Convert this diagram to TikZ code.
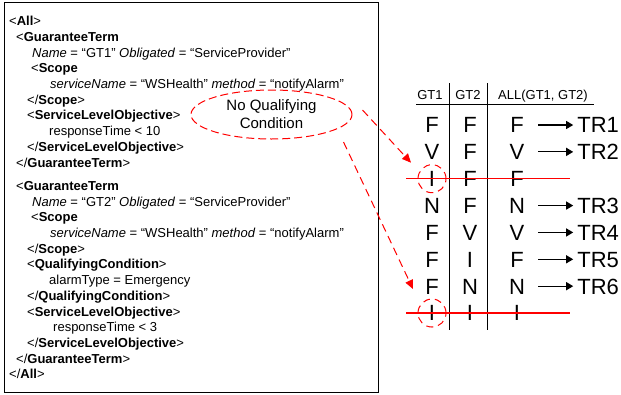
\documentclass[tikz,border=0pt]{standalone}
\usepackage{fontspec}
\setmainfont{Liberation Sans}
\usetikzlibrary{arrows.meta, positioning, shapes.geometric}

\newcommand{\tg}[1]{\textbf{#1}}
\newcommand{\ind}[1]{\hspace*{#1pt}}

\begin{document}
\begin{tikzpicture}[x=1pt, y=-1pt,
    xmlbox/.style={draw, line width=0.9pt, minimum width=374pt, minimum height=390pt,
                   inner sep=0pt, anchor=north west},
    xmltext/.style={font=\fontsize{13}{15.72}\selectfont, align=left, inner sep=0pt,
                    anchor=north west},
    qcnote/.style={ellipse, draw=red, line width=1pt, dash pattern=on 8pt off 4pt,
                   minimum width=161pt, minimum height=49pt, inner sep=0pt,
                   font=\fontsize{15}{18}\selectfont, align=center},
    qcarrow/.style={draw=red, line width=1pt, dash pattern=on 8pt off 5pt,
                    -{Triangle[length=9pt, width=8pt]}, red},
    head/.style={font=\fontsize{13}{15}\selectfont, inner sep=0pt, anchor=base},
    cell/.style={font=\fontsize{22}{26}\selectfont, minimum width=20pt, inner sep=0pt,
                 text height=15.8pt, text depth=0pt},
    trlabel/.style={font=\fontsize{22}{26}\selectfont, inner sep=0pt,
                    text height=15.8pt, text depth=0pt},
    result/.style={line width=1.2pt, -{Triangle[length=7pt, width=8pt]}},
    strike/.style={draw=red, line width=1.2pt},
    ring/.style={circle, draw=red, line width=1pt, dash pattern=on 7pt off 5pt,
                 minimum size=28pt, inner sep=0pt},
    rule/.style={line width=0.9pt},
  ]
    \useasboundingbox (0,0) rectangle (621,394);

    \node[xmlbox] (box) at (4,2) {};
    \node[xmltext] (xml) at (9,16) {%
      <\tg{All}>\\
      \ind{7}<\tg{GuaranteeTerm}\\
      \ind{23}\textit{Name} = “GT1” \textit{Obligated} = “ServiceProvider”\\
      \ind{22}<\tg{Scope}\\
      \ind{41}\textit{serviceName} = “WSHealth” \textit{method} = “notifyAlarm”\\
      \ind{18}</\tg{Scope}>\\
      \ind{18}<\tg{ServiceLevelObjective}>\\
      \ind{40}responseTime < 10\\
      \ind{18}</\tg{ServiceLevelObjective}>\\
      \ind{7}</\tg{GuaranteeTerm}>\\[7.5pt]
      \ind{7}<\tg{GuaranteeTerm}\\
      \ind{23}\textit{Name} = “GT2” \textit{Obligated} = “ServiceProvider”\\
      \ind{22}<\tg{Scope}\\
      \ind{41}\textit{serviceName} = “WSHealth” \textit{method} = “notifyAlarm”\\
      \ind{18}</\tg{Scope}>\\
      \ind{18}<\tg{QualifyingCondition}>\\
      \ind{40}alarmType = Emergency\\
      \ind{18}</\tg{QualifyingCondition}>\\
      \ind{18}<\tg{ServiceLevelObjective}>\\
      \ind{44}responseTime < 3\\
      \ind{18}</\tg{ServiceLevelObjective}>\\
      \ind{7}</\tg{GuaranteeTerm}>\\
      </\tg{All}>};

    \node[qcnote] (qc) at (271.5,114.5) {No Qualifying\\Condition};

    % truth table
    \node[head] (h1) at (430,99) {GT1};
    \node[head] (h2) at (468,99) {GT2};
    \node[head] (h3) at (543,99) {ALL(GT1, GT2)};
    \draw[rule] (416,104.7) -- (594,104.7);
    \draw[rule] (449,83) -- (449,330);
    \draw[rule] (487,83) -- (487,330);

    \foreach \a/\b/\c [count=\i] in {F/F/F, V/F/V, I/F/F, N/F/N, F/V/V, F/I/F, F/N/N, I/I/I} {
      \node[cell] (a\i) at (432, {125+26.86*(\i-1)}) {\a};
      \node[cell] (b\i) at (470, {125+26.86*(\i-1)}) {\b};
      \node[cell] (c\i) at (517, {125+26.86*(\i-1)}) {\c};
    }

    \foreach \r/\t in {1/1, 2/2, 4/3, 5/4, 6/5, 7/6} {
      \node[trlabel, right=50pt of c\r] (tr\t) {TR\t};
      \draw[result] ([xshift=11pt]c\r.east) -- ([xshift=-4pt]tr\t.west);
    }

    \draw[strike] ([xshift=-26pt]a3.center) -- ([xshift=53pt]c3.center);
    \draw[strike] ([xshift=-26pt]a8.center) -- ([xshift=53pt]c8.center);

    \node[ring] (ring1) at (a3) {};
    \node[ring] (ring2) at (a8) {};

    \draw[qcarrow] ([xshift=10pt, yshift=4.5pt]qc.east) -- ([xshift=-21pt, yshift=16pt]ring1.center);
    \draw[qcarrow] ([xshift=-9pt, yshift=-27.5pt]qc.east) -- ([xshift=-19pt, yshift=24pt]ring2.center);
  \end{tikzpicture}
\end{document}
